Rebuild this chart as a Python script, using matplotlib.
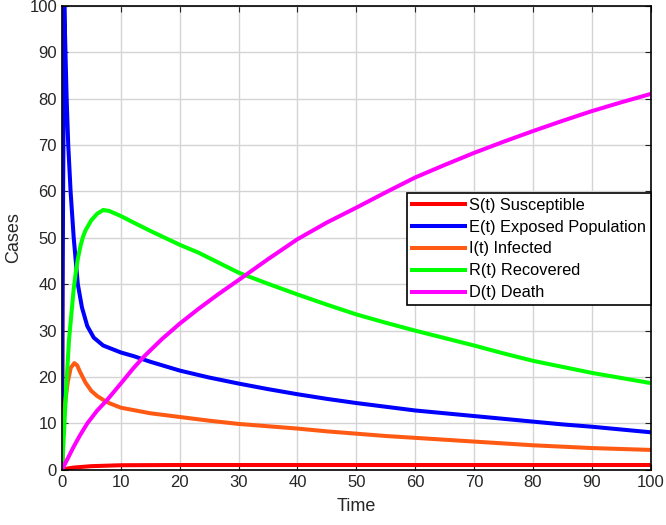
import matplotlib
matplotlib.use('Agg')
import matplotlib.pyplot as plt

plt.rcParams['font.family'] = ['Liberation Sans', 'DejaVu Sans']

# values
t_s = [0, 0.1, 1, 2, 5, 10, 20, 40, 60, 80, 100]
s_vals = [100, 0, 0.3, 0.5, 0.8, 1.0, 1.05, 1.05, 1.05, 1.05, 1.05]

t_e = [0, 0.2, 0.4, 0.6, 0.8, 1.07, 1.47, 2.0, 2.7, 3.4, 4.3, 5.4, 7, 10, 12.2,
       15, 20, 25, 30, 35, 40, 45, 50, 55, 60, 65, 70, 75, 80, 85, 90, 95, 100]
e_vals = [10, 60, 100, 90, 80, 70, 60, 50, 40, 35, 31, 28.5, 26.8, 25.3, 24.5,
          23.3, 21.4, 19.9, 18.6, 17.4, 16.3, 15.3, 14.4, 13.6, 12.8, 12.2,
          11.6, 11.0, 10.4, 9.8, 9.3, 8.7, 8.1]

t_i = [0, 0.5, 1, 1.5, 2.1, 2.6, 3, 4, 5, 6, 7, 8, 10, 15, 20, 25, 30, 35, 40,
       45, 50, 55, 60, 65, 70, 75, 80, 85, 90, 95, 100]
i_vals = [10, 14, 19, 22, 23, 22.5, 21.3, 18.8, 17, 15.9, 15.1, 14.4, 13.4,
          12.2, 11.4, 10.6, 9.9, 9.4, 8.9, 8.3, 7.8, 7.3, 6.9, 6.5, 6.1, 5.7,
          5.3, 5.0, 4.7, 4.5, 4.3]

t_r = [0, 0.35, 0.7, 1.2, 2.0, 2.3, 2.7, 3.2, 3.6, 4, 5, 6, 7, 8, 10, 12,
       15, 17.5, 20, 23.2, 30, 35, 40, 45, 50, 55, 60, 65, 70, 75, 80, 85, 90,
       95, 100]
r_vals = [0, 8, 17, 28, 39, 42, 45.5, 48.5, 50.3, 51.6, 53.8, 55.2, 56, 55.8,
          54.7, 53.4, 51.5, 50, 48.5, 46.8, 42.5, 40.1, 37.8, 35.6, 33.5, 31.7,
          30.0, 28.4, 26.8, 25.1, 23.5, 22.2, 20.9, 19.8, 18.7]

t_d = [0, 1, 2, 3, 4.3, 6, 7.7, 10, 12.2, 14, 17, 20, 23.2, 26.5, 30, 35, 40,
       45, 50, 55, 60, 65, 70, 75, 80, 85, 90, 95, 100]
d_vals = [0, 2.5, 5, 7.3, 10, 12.8, 15.1, 18.6, 22, 24.5, 28.2, 31.5, 34.7,
          37.8, 40.9, 45.4, 49.7, 53.3, 56.5, 59.8, 63, 65.7, 68.3, 70.7, 73,
          75.2, 77.3, 79.2, 81]

fig = plt.figure(figsize=(6.66, 5.25), dpi=100)
ax = fig.add_axes([0.093, 0.105, 0.884, 0.884])

lw = 2.9
ax.plot(t_s, s_vals, color='#ff0000', lw=lw, label='S(t) Susceptible')
ax.plot(t_e, e_vals, color='#0000ff', lw=lw, label='E(t) Exposed Population')
ax.plot(t_i, i_vals, color='#ff5a14', lw=lw, label='I(t) Infected')
ax.plot(t_r, r_vals, color='#00ff00', lw=lw, label='R(t) Recovered')
ax.plot(t_d, d_vals, color='#ff00ff', lw=lw, label='D(t) Death')

ax.set_xlim(0, 100)
ax.set_ylim(0, 100)
ax.set_xticks(range(0, 101, 10))
ax.set_yticks(range(0, 101, 10))
ax.grid(True, color='#d4d4d4', lw=1)
ax.set_axisbelow(True)
ax.tick_params(direction='in', top=True, right=True, length=4,
               labelsize=12, colors='#222222', labelcolor='#262626')
for sp in ax.spines.values():
    sp.set_linewidth(1.2)
ax.set_xlabel('Time', fontsize=13, color='#262626', labelpad=6)
ax.set_ylabel('Cases', fontsize=13, color='#262626', labelpad=5)

leg = ax.legend(loc='upper right', bbox_to_anchor=(1.0, 0.597), fontsize=11.8,
                frameon=True, fancybox=False, edgecolor='black',
                framealpha=1, borderaxespad=0, handlelength=3.2,
                handletextpad=0.25, labelspacing=0.42, borderpad=0.3)
leg.get_frame().set_linewidth(1.2)

fig.savefig('out.png', dpi=100)
